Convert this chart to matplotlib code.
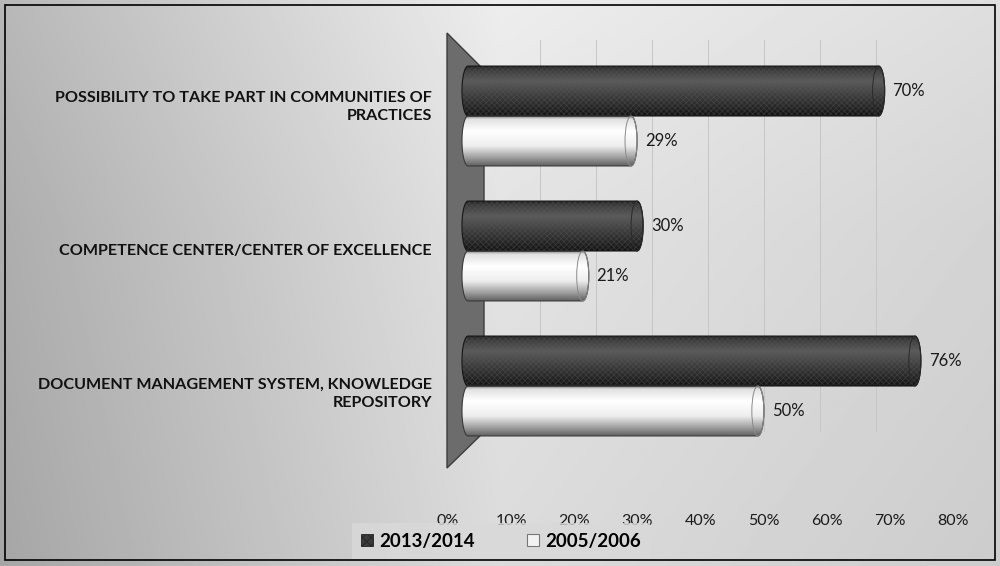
import numpy as np
import matplotlib.pyplot as plt
import matplotlib.transforms as mtransforms
from matplotlib.path import Path
from matplotlib.patches import PathPatch, Ellipse, Polygon, Rectangle, Patch

categories = ['POSSIBILITY TO TAKE PART IN COMMUNITIES OF\nPRACTICES',
              'COMPETENCE CENTER/CENTER OF EXCELLENCE',
              'DOCUMENT MANAGEMENT SYSTEM, KNOWLEDGE\nREPOSITORY']
series_names = ['2013/2014', '2005/2006']
values_2013 = [70, 30, 76]
values_2005 = [29, 21, 50]
tick_values = [0, 10, 20, 30, 40, 50, 60, 70, 80]

plt.rcParams['font.family'] = ['Lato', 'DejaVu Sans']
plt.rcParams['hatch.linewidth'] = 0.5

W, H = 1000, 566
fig = plt.figure(figsize=(10, 5.66), dpi=100)


def box(x0, y0, x1, y1):
    # pixel box (top-left origin) -> figure fraction rect
    return [x0 / W, (H - y1) / H, (x1 - x0) / W, (y1 - y0) / H]


# background panel with soft gradient
bg = fig.add_axes([0, 0, 1, 1])
bg.set_xlim(0, W)
bg.set_ylim(H, 0)
bg.axis('off')
gx, gy = np.meshgrid(np.linspace(0, 1, 400), np.linspace(0, 1, 230))
shade = 0.70 + 0.21 * np.clip(gx / 0.5, 0, 1) - 0.06 * np.clip((gx - 0.5) / 0.5, 0, 1) \
    - 0.05 * gy + 0.02 * np.clip(1 - gy / 0.4, 0, 1)
bg.imshow(shade, cmap='gray', vmin=0, vmax=1, extent=(0, W, H, 0), aspect='auto')
bg.add_patch(Rectangle((5, 5), 990, 555, fill=False, ec='black', lw=1.2))
# side wall of the 3-D plot area
bg.add_patch(Polygon([(447, 33), (484, 70), (484, 432), (447, 468)],
                     closed=True, fc='#6c6c6c', ec='#3c3c3c', lw=1.0))

# back wall gridlines
gax = fig.add_axes(box(484, 40, 932, 432))
gax.set_xlim(0, 80)
gax.set_xticks(tick_values[1:])
gax.grid(axis='x', color='#c6c6c6', lw=0.7)
gax.tick_params(length=0, labelbottom=False, labelleft=False)
gax.set_yticks([])
gax.patch.set_visible(False)
for s in gax.spines.values():
    s.set_visible(False)

# front axis labels
tax = fig.add_axes(box(448, 513, 953, 513))
tax.set_xlim(0, 80)
tax.set_xticks(tick_values, [f'{t}%' for t in tick_values])
tax.tick_params(length=0, pad=1, labelsize=11.5, colors='#1a1a1a')
tax.set_yticks([])
tax.patch.set_visible(False)
for s in tax.spines.values():
    s.set_visible(False)

# main bar axes
ax = fig.add_axes(box(447, 40, 965, 462))
ax.set_xlim(-2.48, 83.3)
ax.set_ylim(2.563, -0.563)
ax.patch.set_visible(False)
for s in ax.spines.values():
    s.set_visible(False)
ax.set_xticks([])
ax.set_yticks([])

y = np.arange(len(categories))
bh = 0.37
dark = ax.barh(y - bh / 2, values_2013, height=bh, color='#333333')
light = ax.barh(y + bh / 2, values_2005, height=bh, color='#eeeeee')

t = np.linspace(0, 1, 100)
prof_dark = np.interp(t, [0, 0.08, 0.3, 0.65, 1], [0.14, 0.24, 0.36, 0.22, 0.08])
prof_light = np.interp(t, [0, 0.06, 0.3, 0.6, 0.85, 1], [0.55, 0.88, 1.0, 0.93, 0.6, 0.38])

rx = 1.0


def capsule(x0, x1, yc, h):
    th = np.linspace(-np.pi / 2, np.pi / 2, 40)
    right = np.column_stack([x1 - rx + rx * np.cos(th), yc + h / 2 * np.sin(th)])
    left = np.column_stack([x0 + rx - rx * np.cos(th[::-1]), yc + h / 2 * np.sin(th[::-1])])
    verts = np.vstack([right, left, right[:1]])
    return Path(verts, closed=True)


def cylinder(bar, prof, edge, cap_ec, hatch):
    x0, w = bar.get_x(), bar.get_width()
    y0, h = bar.get_y(), bar.get_height()
    yc = y0 + h / 2
    bar.set_visible(False)
    path = capsule(x0, x0 + w, yc, h)
    body = PathPatch(path, fc='none', ec=edge, lw=0.8, zorder=3)
    ax.add_patch(body)
    im = ax.imshow(prof[:, None], cmap='gray', vmin=0, vmax=1, aspect='auto',
                   extent=(x0, x0 + w, y0 + h, y0), origin='upper', zorder=2)
    im.set_clip_path(body)
    if hatch:
        ax.add_patch(PathPatch(path, fill=False, hatch='xxxxxx', ec='#5a5a5a',
                               lw=0, alpha=0.45, zorder=2.5))
    ax.add_patch(Ellipse((x0 + w - rx, yc), 2 * rx, h, fill=False,
                         ec=cap_ec, lw=0.7, zorder=3))


for b in dark:
    cylinder(b, prof_dark, '#161616', '#2a2a2a', True)
for b in light:
    cylinder(b, prof_light, '#3a3a3a', '#8a8a8a', False)

for yi, v in zip(y, values_2013):
    ax.text(v + 1.3, yi - bh / 2, f'{v}%', va='center', ha='left', fontsize=12, color='#1a1a1a')
for yi, v in zip(y, values_2005):
    ax.text(v + 1.3, yi + bh / 2, f'{v}%', va='center', ha='left', fontsize=12, color='#1a1a1a')

# category labels, nudged vertically for the perspective of the 3-D floor
label_shift_px = [9, 0, -8]
for yi, name, dy in zip(y, categories, label_shift_px):
    tr = mtransforms.blended_transform_factory(ax.transAxes, ax.transData) + \
        mtransforms.ScaledTranslation(-15 / 100, dy / 100, fig.dpi_scale_trans)
    ax.text(0, yi, name, transform=tr, ha='right', va='center', ma='right',
            fontsize=11.6, fontweight='bold', color='#111111', linespacing=1.45)

handles = [Patch(fc='#3a3a3a', ec='#222222', hatch='xxxx', lw=0.6),
           Patch(fc='#f2f2f2', ec='#777777', lw=0.8)]
leg = fig.legend(handles, series_names, loc='center', ncol=2,
                 bbox_to_anchor=(501 / W, (H - 541) / H), frameon=True,
                 prop={'weight': 'bold', 'size': 13.5}, handlelength=0.65, handleheight=0.65,
                 handletextpad=0.3, columnspacing=2.8, borderpad=0.5, borderaxespad=0,
                 fancybox=False)
leg.get_frame().set_facecolor('#d9d9d9')
leg.get_frame().set_edgecolor('none')

fig.savefig('out.png', dpi=100)
